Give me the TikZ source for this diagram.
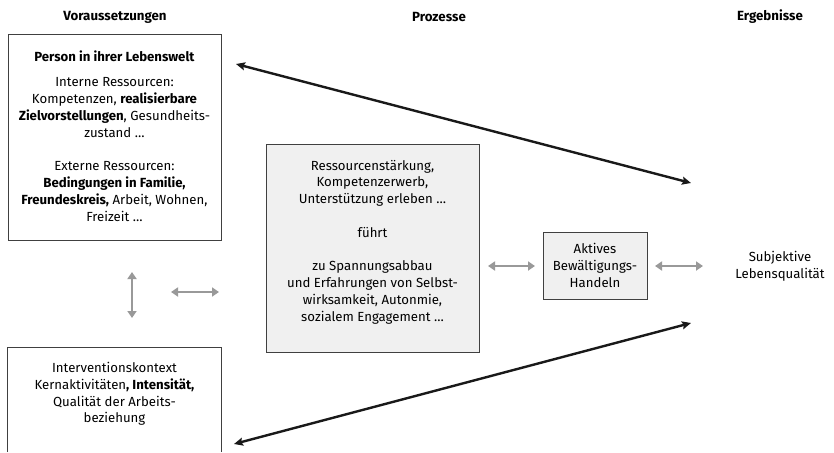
\documentclass[tikz,border=0pt]{standalone}
\usepackage{fontspec}
\setmainfont{Fira Sans}
\usetikzlibrary{arrows.meta}
\begin{document}
\begin{tikzpicture}[x=1pt,y=-1pt,
  every node/.style={font=\fontsize{13.2}{16.8}\selectfont, align=center, inner sep=0pt},
  head/.style={font=\fontsize{13.3}{16}\selectfont\bfseries},
  plainbox/.style={draw=black!75, line width=0.8pt},
  procbox/.style={draw=black!75, line width=0.8pt, fill=black!6},
  grayarrow/.style={draw=black!40, line width=2.8pt, {Triangle[length=7pt,width=9pt]}-{Triangle[length=7pt,width=9pt]}},
  blackarrow/.style={draw=black!90, line width=2.4pt, {Stealth[length=9pt,width=8pt,inset=1.5pt]}-{Stealth[length=9pt,width=8pt,inset=1.5pt]}}
]
\useasboundingbox (0,0) rectangle (834,452);

\node[head] (h1) at (115,17) {Voraussetzungen};
\node[head] (h2) at (439,17) {Prozesse};
\node[head] (h3) at (770,17) {Ergebnisse};

% top box
\node[plainbox, minimum width=213pt, minimum height=206pt] (person) at (114.5,137) {};
\node (persontext) at (114.5,136) {\textbf{Person in ihrer Lebenswelt}\\[9pt]
Interne Ressourcen:\\
Kompetenzen, \textbf{realisierbare}\\
\textbf{Zielvorstellungen}, Gesundheits-\\
zustand \dots\\[16.8pt]
Externe Ressourcen:\\
\textbf{Bedingungen in Familie,}\\
\textbf{Freundeskreis,} Arbeit, Wohnen,\\
Freizeit \dots};

% process box
\node[procbox, minimum width=213pt, minimum height=208pt] (proc) at (372.5,248) {};
\node (proctext) at (372.5,242) {Ressourcenstärkung,\\
Kompetenzerwerb,\\
Unterstützung erleben \dots\\[16.8pt]
führt\\[16.8pt]
zu Spannungsabbau\\
und Erfahrungen von Selbst-\\
wirksamkeit, Autonmie,\\
sozialem Engagement \dots};

% coping box
\node[procbox, minimum width=104pt, minimum height=67pt] (coping) at (595,265.5) {Aktives\\Bewältigungs-\\Handeln};

% result
\node (result) at (780,266) {Subjektive\\Lebensqualität};

% context box (open at bottom)
\node[minimum width=213pt, minimum height=104pt] (ctx) at (114.5,400) {};
\draw[line width=0.8pt, draw=black!75] (ctx.south west) -- (ctx.north west) -- (ctx.north east) -- (ctx.south east);
\node (ctxtext) at (114.5,394) {Interventionskontext\\
Kernaktivitäten\textbf{, Intensität,}\\
Qualität der Arbeits-\\
beziehung};

% free arrow ends
\coordinate (vtop) at (132,272);
\coordinate (vbot) at (132,318);
\coordinate (hl) at (171,292);
\coordinate (hr) at (219,292);
\coordinate (a1s) at (488,266);
\coordinate (a1e) at (535,266);
\coordinate (a2s) at (655,266);
\coordinate (a2e) at (703,266);
\coordinate (t1) at (236,64);
\coordinate (t2) at (691,183);
\coordinate (b1) at (234,444);
\coordinate (b2) at (691,323);

\draw[grayarrow] (vtop) -- (vbot);
\draw[grayarrow] (hl) -- (hr);
\draw[grayarrow] (a1s) -- (a1e);
\draw[grayarrow] (a2s) -- (a2e);
\draw[blackarrow] (t1) -- (t2);
\draw[blackarrow] (b1) -- (b2);
\end{tikzpicture}
\end{document}
